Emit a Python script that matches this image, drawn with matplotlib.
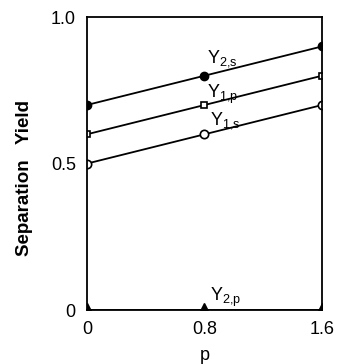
import matplotlib
matplotlib.use('Agg')
import matplotlib.pyplot as plt

plt.rcParams['font.family'] = ['Liberation Sans', 'DejaVu Sans']
plt.rcParams['mathtext.fontset'] = 'custom'
plt.rcParams['mathtext.rm'] = 'Liberation Sans'

p_values = [0.0, 0.8, 1.6]
y2_s = [0.7, 0.8, 0.9]
y1_p = [0.6, 0.7, 0.8]
y1_s = [0.5, 0.6, 0.7]
y2_p = [0.0, 0.0, 0.0]

x_ticks = [0, 0.8, 1.6]
x_tick_labels = ['0', '0.8', '1.6']
y_ticks = [0, 0.5, 1.0]
y_tick_labels = ['0', '0.5', '1.0']

fig = plt.figure(figsize=(3.38, 3.64), dpi=100)
ax = fig.add_axes([0.257, 0.148, 0.696, 0.805])

ax.plot(p_values, y2_s, color='black', lw=1.3, marker='o', ms=6,
        mfc='black', mec='black')
ax.plot(p_values, y1_p, color='black', lw=1.3, marker='s', ms=5,
        mfc='white', mec='black', mew=1.2)
ax.plot(p_values, y1_s, color='black', lw=1.3, marker='o', ms=6,
        mfc='white', mec='black', mew=1.2)
# markers sit on the axis, only the upper half shows
ax.plot(p_values, y2_p, color='black', lw=1.3, marker='^', ms=10,
        mfc='black', mec='black')

lab = dict(fontsize=13)
ax.text(0.82, 0.845, r'Y$_{\mathrm{2{,}s}}$', **lab)
ax.text(0.82, 0.725, r'Y$_{\mathrm{1{,}p}}$', **lab)
ax.text(0.84, 0.635, r'Y$_{\mathrm{1{,}s}}$', **lab)
ax.text(0.84, 0.03, r'Y$_{\mathrm{2{,}p}}$', **lab)

ax.set_xlim(0, 1.6)
ax.set_ylim(0, 1.0)
ax.set_xticks(x_ticks)
ax.set_xticklabels(x_tick_labels, fontsize=13)
ax.set_yticks(y_ticks)
ax.set_yticklabels(y_tick_labels, fontsize=13)
ax.tick_params(length=0, pad=8)
for s in ax.spines.values():
    s.set_linewidth(1.3)

ax.set_xlabel('p', fontsize=13, labelpad=6)
ax.set_ylabel('Separation   Yield', fontsize=13.5, fontweight='bold')
ax.yaxis.set_label_coords(-0.23, 0.45)

fig.savefig('out.png', dpi=100)
